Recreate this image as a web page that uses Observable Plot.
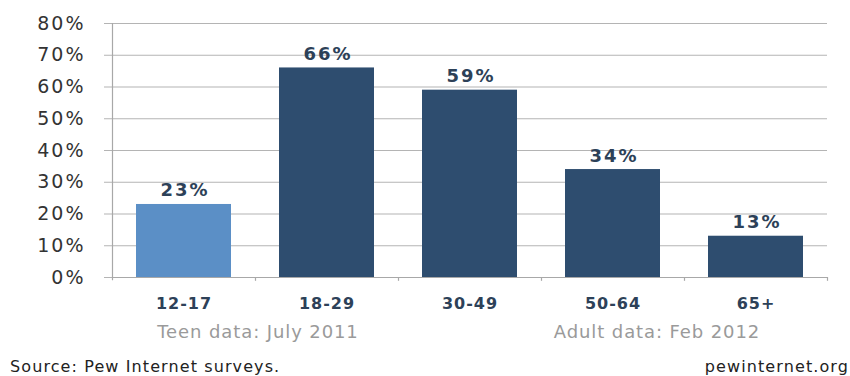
<!DOCTYPE html>
<html>
<head>
<meta charset="utf-8">
<script src="https://cdn.jsdelivr.net/npm/d3@7"></script>
<script src="https://cdn.jsdelivr.net/npm/@observablehq/plot@0.6"></script>
<style>
  html, body { margin: 0; padding: 0; background: #fff; }
  #wrap { position: relative; width: 850px; height: 376px; font-family: "DejaVu Sans", Verdana, sans-serif; overflow: hidden; }
  .note { position: absolute; top: 321px; font-size: 18px; letter-spacing: 0.9px; color: #9a9a9a; transform: translateX(-50%); white-space: nowrap; }
  .foot { position: absolute; top: 357px; font-size: 16px; letter-spacing: 1.1px; color: #222; white-space: nowrap; }
  #wrap svg g[aria-label="text"] text { letter-spacing: 2px; }
  #wrap svg g[aria-label="y-axis tick label"] text { letter-spacing: 2px; }
  #wrap svg g[aria-label="x-axis tick label"] text { letter-spacing: 1px; }
</style>
</head>
<body>
<div id="wrap"></div>
<script>
const categories = ["12-17", "18-29", "30-49", "50-64", "65+"];
const values = [0.23, 0.66, 0.59, 0.34, 0.13];
const groups = ["Teen", "Adult", "Adult", "Adult", "Adult"];
const yTicks = [0, 0.1, 0.2, 0.3, 0.4, 0.5, 0.6, 0.7, 0.8];
const notes = ["Teen data: July 2011", "Adult data: Feb 2012"];
const sourceText = "Source: Pew Internet surveys.";
const siteText = "pewinternet.org";

const data = categories.map((c, i) => ({category: c, value: values[i], group: groups[i]}));

const W = 850, H = 315, ML = 112, MR = 23, MT = 23, MB = 38;
const step = (W - ML - MR) / categories.length;

const chart = Plot.plot({
  width: W,
  height: H,
  marginLeft: ML,
  marginRight: MR,
  marginTop: MT,
  marginBottom: MB,
  style: {fontFamily: "DejaVu Sans, Verdana, sans-serif", background: "#fff"},
  x: {domain: categories, paddingInner: 0.336, paddingOuter: 0.168, label: null},
  y: {domain: [0, 0.8], label: null},
  color: {domain: ["Teen", "Adult"], range: ["#5b8fc6", "#2e4d6f"]},
  marks: [
    Plot.ruleY(yTicks, {y: d => d, stroke: "#b4b4b4", strokeWidth: 1.2, insetLeft: -8}),
    Plot.barY(data, {x: "category", y: "value", fill: "group"}),
    Plot.ruleX([categories[0]], {x: d => d, dx: -step / 2, y1: -0.01, y2: 0.8, stroke: "#a8a8a8", strokeWidth: 1.2}),
    Plot.ruleY([0], {stroke: "#a8a8a8", strokeWidth: 1.2}),
    Plot.ruleX(categories.slice(1), {x: d => d, dx: -step / 2, y1: -0.012, y2: 0, stroke: "#a8a8a8", strokeWidth: 1.2}),
    Plot.ruleX([categories[categories.length - 1]], {x: d => d, dx: step / 2, y1: -0.012, y2: 0, stroke: "#a8a8a8", strokeWidth: 1.2}),
    Plot.text(data, {x: "category", y: "value", text: d => Math.round(d.value * 100) + "%", dy: -8, dx: 1, lineAnchor: "bottom", fontSize: 18, fontWeight: "bold", fill: "#2d4158"}),
    Plot.axisY({ticks: yTicks, tickFormat: d => Math.round(d * 100) + "%", tickSize: 0, tickPadding: 27, fontSize: 19, color: "#333", label: null}),
    Plot.axisX({tickSize: 0, tickPadding: 20, fontSize: 16, fontWeight: "bold", color: "#2d4158", label: null})
  ]
});

const wrap = document.getElementById("wrap");
wrap.appendChild(chart);

const n1 = document.createElement("div");
n1.className = "note"; n1.style.left = "258px"; n1.textContent = notes[0];
const n2 = document.createElement("div");
n2.className = "note"; n2.style.left = "657px"; n2.textContent = notes[1];
const s1 = document.createElement("div");
s1.className = "foot"; s1.style.left = "10px"; s1.textContent = sourceText;
const s2 = document.createElement("div");
s2.className = "foot"; s2.style.right = "1px"; s2.textContent = siteText;
wrap.append(n1, n2, s1, s2);
</script>
</body>
</html>
